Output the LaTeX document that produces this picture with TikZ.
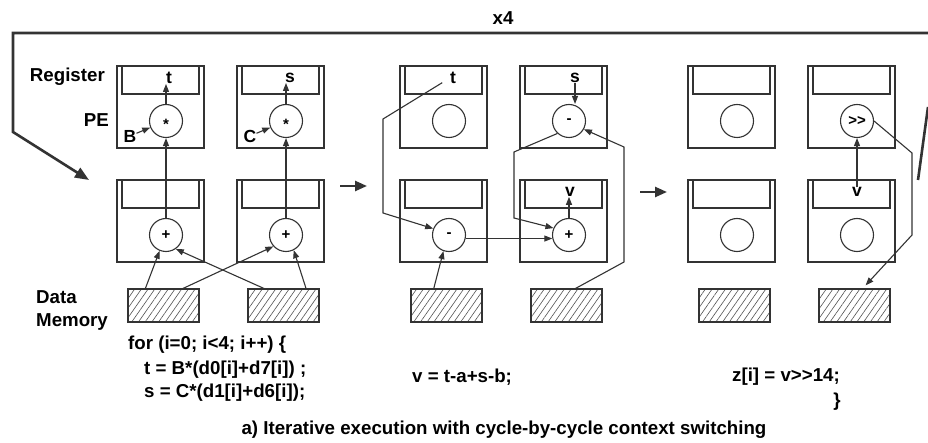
\documentclass[tikz,border=0pt]{standalone}
\usepackage{fontspec}
\setmainfont{Liberation Sans}
\usetikzlibrary{positioning}
\usetikzlibrary{calc}
\usetikzlibrary{arrows.meta}
\usetikzlibrary{patterns.meta}
\definecolor{ink}{HTML}{333333}
\newcommand{\lowstar}{\raisebox{-3.5pt}[0.7em][0pt]{*}}
\tikzset{
  % A processing element: the cell frame
  pecell/.style={
    draw=ink, line width=1.1pt, rectangle, minimum width=87pt,
    minimum height=82pt, inner sep=0pt, outer sep=0pt},
  % The register strip on top of a cell
  reg/.style={
    draw=ink, line width=1.1pt, rectangle, anchor=north, minimum width=77pt,
    minimum height=28pt, inner sep=0pt, outer sep=0pt},
  % The operator of a cell
  op/.style={
    draw=ink, line width=1.1pt, circle, minimum size=33pt, inner sep=0pt,
    font=\fontsize{15}{15}\selectfont\bfseries},
  % A data memory bank
  mem/.style={
    draw=ink, line width=1.1pt, rectangle, minimum width=71pt,
    minimum height=33pt, inner sep=0pt, outer sep=0pt,
    pattern={Lines[angle=55,distance=5.5pt,line width=0.6pt]}, pattern color=ink!85},
  % Texts
  val/.style={font=\fontsize{17.5}{17.5}\selectfont\bfseries, inner sep=0pt},
  lbl/.style={font=\fontsize{18.7}{23}\selectfont\bfseries, inner sep=0pt},
  % Connections
  flow/.style={-{Triangle[length=8pt,width=6pt]}, draw=ink, line width=1.1pt},
  nextcycle/.style={-{Triangle[length=12pt,width=10pt]}, draw=ink, line width=2.4pt},
  loopline/.style={draw=ink, line width=2.6pt},
  loopback/.style={loopline, -{Triangle[length=14pt,width=11pt]}},
}
\begin{document}
\begin{tikzpicture}[x=1pt, y=-1pt]

\useasboundingbox[fill=white] (0,0) rectangle (928,443);

% cycle 1
\node[pecell] (pA1) at (160.5,107) {};
\node[pecell, right=33pt of pA1] (pA2) {};
\node[pecell, below=32pt of pA1] (pA3) {};
\node[pecell, below=32pt of pA2] (pA4) {};
\node[mem, below=27pt of pA3, xshift=3pt] (mA1) {};
\node[mem, below=27pt of pA4, xshift=3pt] (mA2) {};
\node[reg] (rA1) at (pA1.north) {};
\node[reg] (rA2) at (pA2.north) {};
\node[reg] (rA3) at (pA3.north) {};
\node[reg] (rA4) at (pA4.north) {};
\node[op] (oA1) at ($(pA1.center)+(5.5,14)$) {\lowstar};
\node[op] (oA2) at ($(pA2.center)+(5.5,14)$) {\lowstar};
\node[op] (oA3) at ($(pA3.center)+(5.5,14)$) {+};
\node[op] (oA4) at ($(pA4.center)+(5.5,14)$) {+};
\node[val] (tA1) at ($(oA1)+(3,-43)$) {t};
\node[val] (sA2) at ($(oA2)+(4,-43)$) {s};
\node[val] (kB) at ($(oA1)+(-36,15)$) {B};
\node[val] (kC) at ($(oA2)+(-36,15)$) {C};

\draw[flow] (kB) -- (oA1);
\draw[flow] (kC) -- (oA2);
\draw[flow] (oA1) -- (oA1 |- tA1.south);
\draw[flow] (oA2) -- (oA2 |- sA2.south);
\draw[flow] (oA3) -- (oA1);
\draw[flow] (oA4) -- (oA2);
\draw[flow] (mA1.138) -- (oA3.248);
\draw[flow] (mA1.42) -- (oA4.222);
\draw[flow] (mA2.138) -- (oA3.305);
\draw[flow] (mA2.36) -- (oA4.297);

% cycle 2
\node[pecell] (pB1) at (443.5,107) {};
\node[pecell, right=33pt of pB1] (pB2) {};
\node[pecell, below=32pt of pB1] (pB3) {};
\node[pecell, below=32pt of pB2] (pB4) {};
\node[mem, below=27pt of pB3, xshift=3pt] (mB1) {};
\node[mem, below=27pt of pB4, xshift=3pt] (mB2) {};
\node[reg] (rB1) at (pB1.north) {};
\node[reg] (rB2) at (pB2.north) {};
\node[reg] (rB3) at (pB3.north) {};
\node[reg] (rB4) at (pB4.north) {};
\node[op] (oB1) at ($(pB1.center)+(5.5,14)$) {};
\node[op] (oB2) at ($(pB2.center)+(5.5,14)$) {-};
\node[op] (oB3) at ($(pB3.center)+(5.5,14)$) {-};
\node[op] (oB4) at ($(pB4.center)+(5.5,14)$) {+};
\node[val] (tB1) at ($(oB1)+(4,-43)$) {t};
\node[val] (sB2) at ($(oB2)+(6,-43)$) {s};
\node[val] (vB4) at ($(oB4)+(1,-43)$) {v};

\draw[flow, shorten <=9pt] (tB1.west) -- (383,119) -- (383,213) -- (oB3.158);
\draw[flow] (sB2.south) -- (sB2.south |- oB2.north);
\draw[flow] (oB2.227) -- (514,152) -- (514,218) -- (oB4.156);
\draw[flow] (oB3.-12) -- (oB4.192);
\draw[flow] (mB1.128) -- (oB3.251);
\draw[flow] (mB2.64) -- (624,262) -- (624,147) -- (oB2.-29);
\draw[flow] (oB4) -- (oB4 |- vB4.south);

% cycle 3
\node[pecell] (pC1) at (731.5,107) {};
\node[pecell, right=33pt of pC1] (pC2) {};
\node[pecell, below=32pt of pC1] (pC3) {};
\node[pecell, below=32pt of pC2] (pC4) {};
\node[mem, below=27pt of pC3, xshift=3pt] (mC1) {};
\node[mem, below=27pt of pC4, xshift=3pt] (mC2) {};
\node[reg] (rC1) at (pC1.north) {};
\node[reg] (rC2) at (pC2.north) {};
\node[reg] (rC3) at (pC3.north) {};
\node[reg] (rC4) at (pC4.north) {};
\node[op] (oC1) at ($(pC1.center)+(5.5,14)$) {};
\node[op] (oC2) at ($(pC2.center)+(5.5,14)$) {>{}>};
\node[op] (oC3) at ($(pC3.center)+(5.5,14)$) {};
\node[op] (oC4) at ($(pC4.center)+(5.5,14)$) {};
\node[val] (vC4) at ($(oC4)+(0,-43)$) {v};

\draw[flow] (vC4.north) -- (oC2);
\draw[flow, shorten >=5pt] (oC2.east) -- (912,153) -- (912,235) -- (mC2.65);

% from cycle to cycle
\coordinate (goA) at (340,186);
\coordinate (goB) at (367,186);
\coordinate (goC) at (640,192);
\coordinate (goD) at (667,192);
\draw[nextcycle] (goA) -- (goB);
\draw[nextcycle] (goC) -- (goD);

% loop back, four iterations
\coordinate (loopR) at (928,33);
\coordinate (loopIn) at (89,180);
\coordinate (loopOut) at (928,107);
\coordinate (loopDown) at (918,180);
\draw[loopback] (loopR) -- (13,33) -- (13,132) -- (loopIn);
\draw[loopline] (loopOut) -- (loopDown);
\node[lbl] (xfour) at (503,18) {x4};

% labels
\node[lbl, anchor=east] (lreg) at (105,77) {Register};
\node[lbl, anchor=east] (lpe) at (109,120) {PE};
\node[lbl, anchor=west, align=left] (ldm) at (36,311) {Data\\Memory};

% source code
\node[lbl, anchor=west] (code1) at (128,345) {for (i=0; i<4; i++) \{};
\node[lbl, anchor=west] (code2) at (144,370) {t = B*(d0[i]+d7[i]) ;};
\node[lbl, anchor=west] (code3) at (144,393) {s = C*(d1[i]+d6[i]);};
\node[lbl, anchor=west] (code4) at (412,377) {v = t-a+s-b;};
\node[lbl, anchor=west] (code5) at (732,377) {z[i] = v>{}>14;};
\node[lbl] (code6) at (837,402) {\}};

\node[lbl] (cap) at (504,430) {a) Iterative execution with cycle-by-cycle context switching};

\end{tikzpicture}
\end{document}
